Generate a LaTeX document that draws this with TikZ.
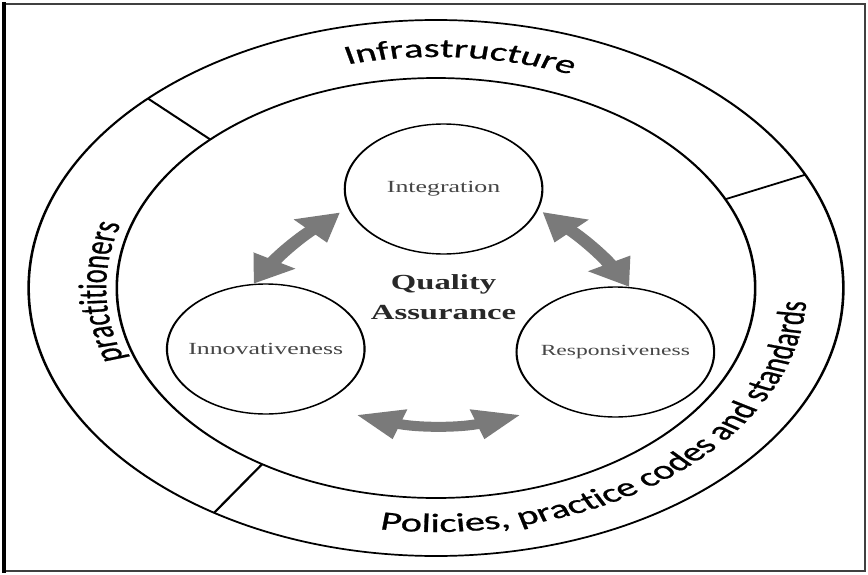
\documentclass[tikz,border=0pt]{standalone}
\usepackage{fontspec}
\setmainfont{Liberation Serif}
\newfontfamily\bandfont{Carlito}[FakeBold=0.7]
\usetikzlibrary{arrows.meta,decorations.text,calc}
\definecolor{arrowgray}{RGB}{122,122,122}
\definecolor{labelgray}{RGB}{70,70,70}
\definecolor{qagray}{RGB}{40,40,40}
\tikzset{
  ring/.style={draw=black, line width=1.7pt},
  divider/.style={draw=black, line width=1.7pt},
  topic/.style={circle, draw=black, line width=1.4pt, minimum size=130pt, inner sep=0pt,
    text=labelgray, font=\fontsize{17}{20}\selectfont},
  dualarrow/.style={draw=arrowgray, line width=10pt,
    {Triangle[length=27pt,width=30pt]}-{Triangle[length=27pt,width=30pt]}},
  flatarrow/.style={draw=arrowgray, line width=10pt,
    {Triangle[length=30pt,width=29pt]}-{Triangle[length=30pt,width=29pt]}},
  qatext/.style={font=\bfseries\fontsize{21.5}{30}\selectfont, text=qagray, align=center},
}
\begin{document}
\begin{tikzpicture}[x=1pt,y=1pt]
\useasboundingbox (-436,288) rectangle (432,-286);
\fill[white] (-436,288) rectangle (432,-286);
\draw[line width=1.5pt, black!75] (-433,284) rectangle (429,-283);
\draw[line width=4pt] (-432,286) -- (-432,-285);
\begin{scope}[transform canvas={xscale=1.52}]
  % rings
  \draw[ring] (0,0) circle[radius=268];
  \draw[ring] (0,0) circle[radius=210];
  \draw[divider] (135:210) -- (135:268);
  \draw[divider] (25:210) -- (25:268);
  \draw[divider] (237:210) -- (237:268);
  % band texts
  \path[decorate, decoration={text along path, text align=center,
    text={|\bandfont\fontsize{26.5}{30}\selectfont|Infrastructure}}]
    (126:231) arc[start angle=126, end angle=46, radius=231];
  \path[decorate, decoration={text along path, text align=center,
    text={|\bandfont\fontsize{26.5}{30}\selectfont|practitioners}}]
    (216:217) arc[start angle=216, end angle=146, radius=217];
  \path[decorate, decoration={text along path, text align=center,
    text={|\bandfont\fontsize{26.5}{30}\selectfont|Policies, practice codes and standards}}]
    (254:244) arc[start angle=254, end angle=364, radius=244];
  % topics
  \node[topic] (int) at (5,99) {Integration};
  \node[topic] (inn) at (-112,-61) {Innovativeness};
  \node[topic, font=\fontsize{15.5}{18}\selectfont] (res) at (118,-64) {Responsiveness};
  \node[qatext] (qa) at (5,-9) {Quality\\Assurance};
  % arrows
  \coordinate (a1) at ($(int.center)+(199:72)$);
  \coordinate (a2) at ($(int.center)+(-19.5:69)$);
  \coordinate (b1) at ($(inn.center)+(-47.8:89)$);
  \coordinate (b2) at ($(res.center)+(-134.8:88.7)$);
  \draw[dualarrow] (inn.97) to[bend left=8] (a1);
  \draw[dualarrow] (a2) to[bend left=8] (res.82);
  \draw[flatarrow] (b1) to[bend right=18] (b2);
\end{scope}
\end{tikzpicture}
\end{document}
